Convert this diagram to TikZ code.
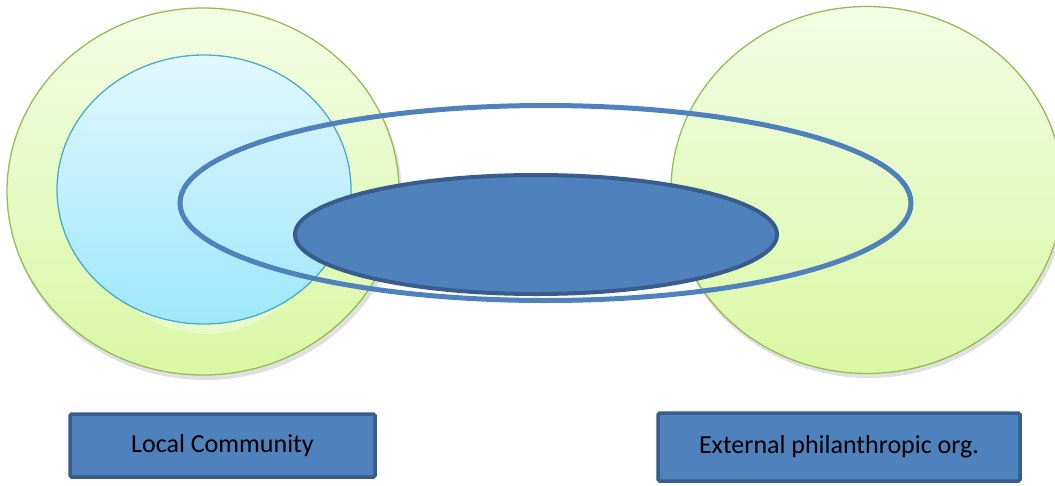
\documentclass[tikz,border=0pt]{standalone}
\usepackage{fontspec}
\setmainfont{Carlito}
\usetikzlibrary{shapes.geometric}
\definecolor{grnT}{HTML}{F3FDE5}
\definecolor{grnB}{HTML}{D9F7A4}
\definecolor{grnD}{HTML}{9BBB59}
\definecolor{bluT}{HTML}{E2F7FE}
\definecolor{bluB}{HTML}{9EE7FB}
\definecolor{bluD}{HTML}{4BACC6}
\definecolor{accent}{HTML}{4F81BD}
\definecolor{accentD}{HTML}{385D8A}
\begin{document}
\begin{tikzpicture}[x=1pt,y=-1pt,
  blob/.style={ellipse, inner sep=0pt, outer sep=0pt},
  greencirc/.style={blob, draw=grnD, line width=1.3pt, top color=grnT, bottom color=grnB,
    minimum width=392pt, minimum height=367pt},
  shadowblob/.style={blob, fill=black, opacity=0.12,
    minimum width=394pt, minimum height=368pt},
  labelbox/.style={draw=accentD, fill=accent, line width=3.5pt, rounded corners=1.5pt,
    inner sep=0pt, font=\fontsize{26}{30}\selectfont, text=black}
]
\useasboundingbox (0,0) rectangle (1055,485);
\clip (0,0) rectangle (1055,485);
\fill[white] (0,0) rectangle (1055,485);
% shadows of the green circles
\node[shadowblob] (shL) at (205,196) {};
\node[shadowblob] (shR) at (869,194) {};
% green circles
\node[greencirc] (gL) at (203,191.5) {};
\node[greencirc] (gR) at (867,190) {};
% pale reflection under the blue circle
\node[blob, fill=white, opacity=0.35, minimum width=250pt, minimum height=280pt] (refl) at (206,194) {};
% blue circle
\node[blob, draw=bluD, line width=1.3pt, top color=bluT, bottom color=bluB,
  minimum width=294pt, minimum height=269pt] (bC) at (204,189.5) {};
% ring
\node[blob, draw=accent, line width=5pt, minimum width=731pt, minimum height=195pt] (ring) at (545.5,203) {};
% filled ellipse
\node[blob, fill=accent, draw=accentD, line width=4pt, minimum width=482pt, minimum height=119pt] (core) at (536,234.5) {};
% label boxes
\node[labelbox, minimum width=305pt, minimum height=63pt] (lc) at (222.5,445.5) {Local Community};
\node[labelbox, minimum width=362pt, minimum height=68pt] (ep) at (839,447) {External philanthropic org.};
\end{tikzpicture}
\end{document}
